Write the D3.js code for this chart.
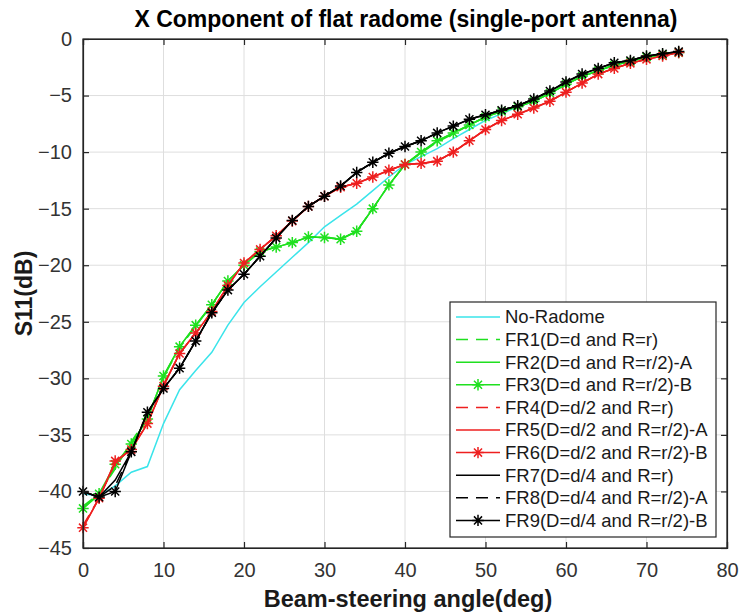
<!DOCTYPE html>
<html>
<head>
<meta charset="utf-8">
<script src="https://cdn.jsdelivr.net/npm/d3@7"></script>
<style>
body { margin: 0; background: #fff; }
text { font-family: "Liberation Sans", Arial, Helvetica, sans-serif; }
</style>
</head>
<body>
<svg id="chart"></svg>
<script>
// beam-steering angles (deg)
let angles = [0, 2, 4, 6, 8, 10, 12, 14, 16, 18, 20, 22, 24, 26, 28, 30, 32, 34, 36,
              38, 40, 42, 44, 46, 48, 50, 52, 54, 56, 58, 60, 62, 64, 66, 68, 70, 72, 74]

let xTicks = [0, 10, 20, 30, 40, 50, 60, 70, 80]
let yTicks = [0, -5, -10, -15, -20, -25, -30, -35, -40, -45]

// S11 (dB)
let noRadome = [-40.2, -40.4, -39.5, -38.3, -37.8, -34.0, -31.0, -29.3, -27.7, -25.3, -23.3, -21.9, -20.6, -19.3, -18.0, -16.6, -15.6, -14.6, -13.4,
                -12.2, -11.1, -10.4, -9.7, -8.8, -8.0, -7.2, -6.6, -6.0, -5.5, -4.8, -4.0, -3.3, -2.8, -2.3, -2.0, -1.6, -1.4, -1.2]
let fr1 = [-41.3, -40.2, -38.0, -35.6, -33.5, -29.9, -27.3, -25.4, -23.5, -21.4, -20.0, -18.8, -18.4, -18.0, -17.5, -17.5, -17.7, -17.0, -15.0,
           -12.9, -11.1, -10.1, -9.1, -8.4, -7.6, -6.9, -6.4, -6.0, -5.5, -4.8, -4.0, -3.3, -2.8, -2.3, -2.0, -1.6, -1.4, -1.2]
let fr2 = [-41.5, -40.3, -37.8, -35.8, -33.6, -29.8, -27.2, -25.3, -23.5, -21.4, -20.0, -18.8, -18.4, -18.0, -17.5, -17.55, -17.7, -17.0, -15.0,
           -12.9, -11.1, -10.0, -9.0, -8.3, -7.6, -6.9, -6.4, -6.0, -5.5, -4.8, -4.0, -3.3, -2.8, -2.3, -2.0, -1.6, -1.4, -1.2]
let fr3 = [-41.5, -40.2, -37.6, -35.8, -33.6, -29.8, -27.2, -25.3, -23.5, -21.4, -20.0, -18.8, -18.4, -18.0, -17.5, -17.55, -17.7, -17.0, -15.0,
           -12.9, -11.1, -10.0, -9.0, -8.3, -7.6, -6.9, -6.4, -6.0, -5.5, -4.8, -4.0, -3.3, -2.8, -2.3, -2.0, -1.6, -1.4, -1.2]
let fr4 = [-43.0, -40.6, -37.5, -36.2, -34.0, -30.6, -27.8, -26.0, -24.1, -21.8, -19.8, -18.6, -17.4, -16.1, -14.8, -13.9, -13.1, -12.75, -12.2,
           -11.6, -11.1, -11.0, -10.8, -10.0, -9.0, -8.0, -7.2, -6.65, -6.1, -5.5, -4.7, -3.9, -3.1, -2.6, -2.15, -1.8, -1.5, -1.2]
let fr5 = [-43.2, -40.6, -37.4, -36.3, -34.0, -30.6, -27.8, -26.0, -24.1, -21.8, -19.8, -18.6, -17.4, -16.1, -14.8, -13.9, -13.1, -12.75, -12.2,
           -11.6, -11.1, -11.0, -10.8, -10.0, -9.0, -8.0, -7.2, -6.65, -6.1, -5.5, -4.7, -3.9, -3.1, -2.6, -2.15, -1.8, -1.5, -1.2]
let fr6 = [-43.2, -40.6, -37.3, -36.3, -34.0, -30.7, -27.8, -26.0, -24.1, -21.8, -19.8, -18.6, -17.4, -16.1, -14.8, -13.9, -13.1, -12.75, -12.2,
           -11.6, -11.1, -11.0, -10.8, -10.0, -9.0, -8.0, -7.2, -6.65, -6.1, -5.5, -4.7, -3.9, -3.1, -2.6, -2.15, -1.8, -1.5, -1.2]
let fr7 = [-40.0, -40.5, -39.0, -36.5, -33.0, -30.9, -29.1, -26.7, -24.2, -22.2, -20.8, -19.2, -17.6, -16.05, -14.8, -13.9, -13.0, -11.8, -10.9,
           -10.1, -9.5, -9.0, -8.3, -7.7, -7.1, -6.7, -6.3, -5.9, -5.3, -4.6, -3.8, -3.1, -2.6, -2.1, -1.9, -1.5, -1.3, -1.1]
let fr8 = [-40.0, -40.5, -39.5, -36.5, -33.0, -30.9, -29.1, -26.7, -24.2, -22.2, -20.8, -19.2, -17.6, -16.05, -14.8, -13.9, -13.0, -11.8, -10.9,
           -10.1, -9.5, -9.0, -8.3, -7.7, -7.1, -6.7, -6.3, -5.9, -5.3, -4.6, -3.8, -3.1, -2.6, -2.1, -1.9, -1.5, -1.3, -1.1]
let fr9 = [-40.0, -40.5, -40.0, -36.5, -33.0, -30.9, -29.1, -26.7, -24.2, -22.2, -20.8, -19.2, -17.6, -16.05, -14.8, -13.9, -13.0, -11.8, -10.9,
           -10.1, -9.5, -9.0, -8.3, -7.7, -7.1, -6.7, -6.3, -5.9, -5.3, -4.6, -3.8, -3.1, -2.6, -2.1, -1.9, -1.5, -1.3, -1.1]

let names = ['No-Radome', 'FR1(D=d and R=r)', 'FR2(D=d and R=r/2)-A', 'FR3(D=d and R=r/2)-B',
             'FR4(D=d/2 and R=r)', 'FR5(D=d/2 and R=r/2)-A', 'FR6(D=d/2 and R=r/2)-B',
             'FR7(D=d/4 and R=r)', 'FR8(D=d/4 and R=r/2)-A', 'FR9(D=d/4 and R=r/2)-B']

let cyan = '#3ae4ea'
let green = '#1fe01f'
let red = '#ee1f1f'
let black = '#000000'

let series = [
    {name: names[0], values: noRadome, color: cyan, dash: null, marker: false},
    {name: names[1], values: fr1, color: green, dash: '12,8', marker: false},
    {name: names[2], values: fr2, color: green, dash: null, marker: false},
    {name: names[3], values: fr3, color: green, dash: null, marker: true},
    {name: names[4], values: fr4, color: red, dash: '12,8', marker: false},
    {name: names[5], values: fr5, color: red, dash: null, marker: false},
    {name: names[6], values: fr6, color: red, dash: null, marker: true},
    {name: names[7], values: fr7, color: black, dash: null, marker: false},
    {name: names[8], values: fr8, color: black, dash: '12,8', marker: false},
    {name: names[9], values: fr9, color: black, dash: null, marker: true}
]

let width = 742
let height = 614
let margin = {top: 39, right: 15, bottom: 66, left: 83}
let axisColor = '#262626'

let svg = d3.select('#chart')
svg.attr('width', width)
svg.attr('height', height)

let xScale = d3.scaleLinear()
                .domain([0, 80])
                .range([margin.left, width - margin.right])

let yScale = d3.scaleLinear()
                .domain([-45, 0])
                .range([height - margin.bottom, margin.top])

// matlab style '*' marker
let asterisk = {
    draw: (context, size) => {
        let r = Math.sqrt(size) / 2
        let d = r * Math.SQRT1_2
        context.moveTo(-r, 0)
        context.lineTo(r, 0)
        context.moveTo(0, -r)
        context.lineTo(0, r)
        context.moveTo(-d, -d)
        context.lineTo(d, d)
        context.moveTo(-d, d)
        context.lineTo(d, -d)
    }
}
let star = d3.symbol(asterisk, 130)

let drawGrid = () => {
    svg.append('g')
        .selectAll('line')
        .data(xTicks)
        .enter()
        .append('line')
        .attr('x1', (d) => xScale(d))
        .attr('x2', (d) => xScale(d))
        .attr('y1', yScale(-45))
        .attr('y2', yScale(0))
        .attr('stroke', '#dedede')

    svg.append('g')
        .selectAll('line')
        .data(yTicks)
        .enter()
        .append('line')
        .attr('x1', xScale(0))
        .attr('x2', xScale(80))
        .attr('y1', (d) => yScale(d))
        .attr('y2', (d) => yScale(d))
        .attr('stroke', '#dedede')
}

let drawLines = () => {
    let line = d3.line()
                .x((d, i) => xScale(angles[i]))
                .y((d) => yScale(d))

    series.forEach((s) => {
        svg.append('path')
            .datum(s.values)
            .attr('d', line)
            .attr('fill', 'none')
            .attr('stroke', s.color)
            .attr('stroke-width', 1.5)
            .attr('stroke-dasharray', s.dash)

        if (s.marker) {
            svg.append('g')
                .selectAll('path')
                .data(s.values)
                .enter()
                .append('path')
                .attr('d', star)
                .attr('transform', (d, i) => 'translate(' + xScale(angles[i]) + ',' + yScale(d) + ')')
                .attr('fill', 'none')
                .attr('stroke', s.color)
                .attr('stroke-width', 1.5)
        }
    })
}

let drawAxes = () => {
    let xAxis = d3.axisBottom(xScale)
                    .tickValues(xTicks)
                    .tickSize(-6)
                    .tickPadding(15)
    let yAxis = d3.axisLeft(yScale)
                    .tickValues(yTicks)
                    .tickSize(-6)
                    .tickPadding(11)
    let xTop = d3.axisTop(xScale).tickValues(xTicks).tickSize(-6).tickFormat('')
    let yRight = d3.axisRight(yScale).tickValues(yTicks).tickSize(-6).tickFormat('')

    let groups = [
        svg.append('g').attr('transform', 'translate(0, ' + (height - margin.bottom) + ')').call(xAxis),
        svg.append('g').attr('transform', 'translate(' + margin.left + ', 0)').call(yAxis),
        svg.append('g').attr('transform', 'translate(0, ' + margin.top + ')').call(xTop),
        svg.append('g').attr('transform', 'translate(' + (width - margin.right) + ', 0)').call(yRight)
    ]
    groups.forEach((g) => {
        g.select('.domain').attr('stroke', axisColor).attr('stroke-width', 1.2)
        g.selectAll('.tick line').attr('stroke', axisColor).attr('stroke-width', 1.2)
        g.selectAll('.tick text')
            .attr('fill', '#333')
            .style('font-size', '20px')
            .style('font-family', '"Liberation Sans", Arial, sans-serif')
    })
}

let drawLabels = () => {
    svg.append('text')
        .attr('x', (margin.left + width - margin.right) / 2 + 1)
        .attr('y', 27)
        .attr('text-anchor', 'middle')
        .style('font-size', '23px')
        .style('font-weight', 'bold')
        .attr('fill', '#000')
        .text('X Component of flat radome (single-port antenna)')

    svg.append('text')
        .attr('x', (margin.left + width - margin.right) / 2 + 3)
        .attr('y', 607)
        .attr('text-anchor', 'middle')
        .style('font-size', '23.5px')
        .style('font-weight', 'bold')
        .attr('fill', '#1a1a1a')
        .text('Beam-steering angle(deg)')

    svg.append('text')
        .attr('transform', 'translate(32, ' + ((margin.top + height - margin.bottom) / 2) + ') rotate(-90)')
        .attr('text-anchor', 'middle')
        .style('font-size', '23px')
        .style('font-weight', 'bold')
        .attr('fill', '#1a1a1a')
        .text('S11(dB)')
}

let drawLegend = () => {
    let lx = 450
    let ly = 302
    let rowH = 22.6

    let legend = svg.append('g')

    legend.append('rect')
        .attr('x', lx)
        .attr('y', ly)
        .attr('width', 266)
        .attr('height', 235)
        .attr('fill', '#fff')
        .attr('stroke', axisColor)
        .attr('stroke-width', 1.2)

    let rows = legend.selectAll('g.row')
        .data(series)
        .enter()
        .append('g')
        .attr('class', 'row')
        .attr('transform', (d, i) => 'translate(0, ' + (ly + 15 + i * rowH) + ')')

    rows.append('line')
        .attr('x1', lx + 6)
        .attr('x2', lx + 50)
        .attr('stroke', (d) => d.color)
        .attr('stroke-width', 1.5)
        .attr('stroke-dasharray', (d) => d.dash)

    rows.filter((d) => d.marker)
        .append('path')
        .attr('d', star)
        .attr('transform', 'translate(' + (lx + 28) + ', 0)')
        .attr('fill', 'none')
        .attr('stroke', (d) => d.color)
        .attr('stroke-width', 1.5)

    rows.append('text')
        .attr('x', lx + 55)
        .attr('dy', '0.35em')
        .style('font-size', '18.5px')
        .attr('fill', '#1a1a1a')
        .text((d) => d.name)
}

drawGrid()
drawLines()
drawAxes()
svg.append('rect')
    .attr('x', margin.left)
    .attr('y', margin.top)
    .attr('width', width - margin.left - margin.right)
    .attr('height', height - margin.top - margin.bottom)
    .attr('fill', 'none')
    .attr('stroke', axisColor)
    .attr('stroke-width', 1.2)
drawLabels()
drawLegend()
</script>
</body>
</html>
